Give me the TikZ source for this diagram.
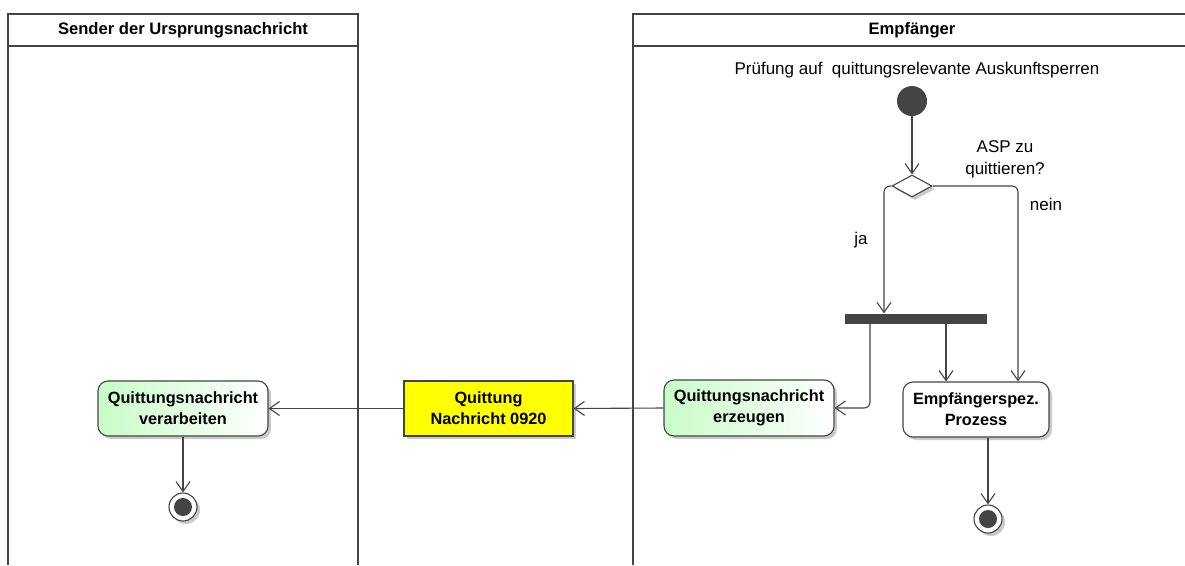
\documentclass[tikz,border=0pt]{standalone}
\usepackage{fontspec}
\setmainfont{Liberation Sans}
\usetikzlibrary{arrows.meta,shapes.geometric,shadows}
\definecolor{ln}{HTML}{444444}
\definecolor{grn}{HTML}{C8FCC8}
\definecolor{ylw}{HTML}{FFFF00}
\tikzset{
  lane/.style={draw=ln,line width=2pt},
  arr/.style={draw=ln,line width=1.1pt,-{Straight Barb[length=10pt,width=14pt,line width=1.1pt]}},
  shd/.style={drop shadow={shadow xshift=3pt,shadow yshift=-3pt,fill=black!35,opacity=0.6}},
  act/.style={draw=ln,line width=1.1pt,rounded corners=10pt,align=center,
     font=\fontsize{16.3}{21}\selectfont\bfseries,inner sep=0pt,shd},
  greenact/.style={act,left color=grn,right color=white},
  txt/.style={font=\fontsize{17}{22}\selectfont,align=center,inner sep=0pt},
  hdr/.style={font=\fontsize{16.6}{20}\selectfont\bfseries,inner sep=0pt}
}
\begin{document}
\begin{tikzpicture}[x=1pt,y=-1pt]
\useasboundingbox (0,0) rectangle (1185,565);
% lanes
\draw[lane] (8,565) -- (8,14) -- (358,14) -- (358,565);
\draw[lane] (8,46) -- (358,46);
\draw[lane] (633,565) -- (633,14) -- (1195,14);
\draw[lane] (633,46) -- (1195,46);
\node[hdr] (hL) at (183,30) {Sender der Ursprungsnachricht};
\node[hdr] (hR) at (912,30) {Empfänger};
\node[txt] (title) at (917,70) {Prüfung auf\ \ quittungsrelevante Auskunftsperren};
% start
\node[circle,fill=ln,minimum size=30pt,inner sep=0pt] (start) at (912,101) {};
% decision
\node[diamond,draw=ln,line width=1.1pt,fill=white,minimum width=40pt,minimum height=22pt,inner sep=0pt,shd] (dia) at (912,186) {};
\node[txt] (q) at (1005,159) {ASP zu\\quittieren?};
\node[txt] (ja) at (861,240) {ja};
\node[txt] (nein) at (1046,204) {nein};
% fork bar
\node[fill=ln,minimum width=142pt,minimum height=10pt,inner sep=0pt] (bar) at (916,318.5) {};
% activities
\node[act,fill=white,minimum width=146pt,minimum height=55pt] (emp) at (976,409.5) {Empfängerspez.\\Prozess};
\node[greenact,minimum width=170pt,minimum height=56pt] (erz) at (749,408) {Quittungsnachricht\\erzeugen};
\node[draw=ln,line width=1.1pt,fill=ylw,minimum width=169pt,minimum height=55pt,align=center,
      font=\fontsize{16.3}{21}\selectfont\bfseries,inner sep=0pt,shd] (quit) at (488.5,408.5) {Quittung\\Nachricht 0920};
\node[greenact,minimum width=170pt,minimum height=55pt] (ver) at (183,408.5) {Quittungsnachricht\\verarbeiten};
% finals
\node[circle,draw=ln,line width=1.1pt,fill=white,minimum size=28pt,inner sep=0pt,shd] (end1) at (183,507) {};
\node[circle,fill=ln,minimum size=18pt,inner sep=0pt] (end1i) at (end1) {};
\node[circle,draw=ln,line width=1.1pt,fill=white,minimum size=28pt,inner sep=0pt,shd] (end2) at (988,519) {};
\node[circle,fill=ln,minimum size=18pt,inner sep=0pt] (end2i) at (end2) {};
% connectors
\draw[arr] (start) -- (dia.north);
\draw[arr,rounded corners=6pt] (dia.west) -| ([xshift=-32pt]bar.north);
\draw[arr,rounded corners=6pt] (dia.east) -| ([xshift=42pt]emp.north);
\draw[arr,rounded corners=6pt] ([xshift=-46pt]bar.south) |- (erz.east);
\draw[arr] ([xshift=30pt]bar.south) -- ([xshift=30pt]bar.south |- emp.north);
\draw[arr] (emp.south -| end2) -- (end2.north);
\draw[arr] (erz.west) -- (quit.east);
\draw[arr] (quit.west) -- (ver.east);
\draw[arr] (ver.south) -- (end1.north);
\end{tikzpicture}
\end{document}
